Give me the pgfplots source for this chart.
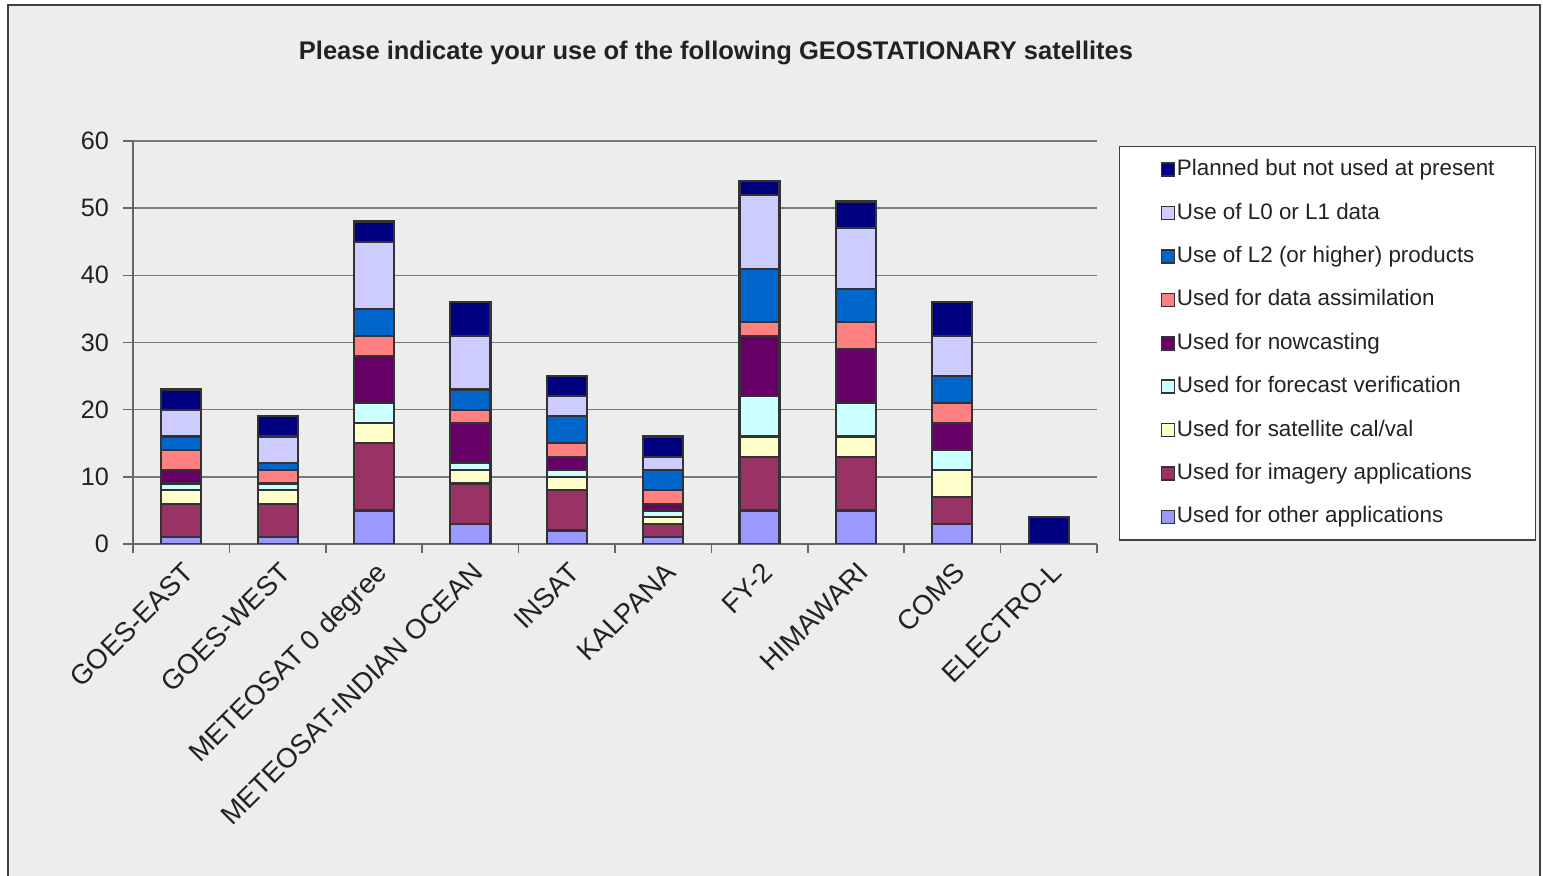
\documentclass[border=0pt]{standalone}
\usepackage{fontspec}
\setmainfont{Liberation Sans}
\usepackage{pgfplots}
\usepackage{pgfplotstable}
\pgfplotsset{compat=1.18}
\definecolor{cOther}{HTML}{9999FF}
\definecolor{cImagery}{HTML}{993366}
\definecolor{cCalval}{HTML}{FFFFCC}
\definecolor{cForecast}{HTML}{CCFFFF}
\definecolor{cNowcast}{HTML}{660066}
\definecolor{cDA}{HTML}{FF8080}
\definecolor{cLtwo}{HTML}{0066CC}
\definecolor{cLzero}{HTML}{CCCCFF}
\definecolor{cPlanned}{HTML}{000080}
\definecolor{bgc}{HTML}{EDEDED}
\definecolor{framec}{HTML}{404040}
\definecolor{axisc}{HTML}{666666}
\definecolor{gridc}{HTML}{7A7A7A}
\definecolor{barline}{HTML}{333333}
\definecolor{textc}{HTML}{222222}

\pgfplotstableread{
x other imagery calval forecast nowcast da ltwo lzero planned
0 1 5 2 1 2 3 2 4 3
1 1 5 2 1 0 2 1 4 3
2 5 10 3 3 7 3 4 10 3
3 3 6 2 1 6 2 3 8 5
4 2 6 2 1 2 2 4 3 3
5 1 2 1 1 1 2 3 2 3
6 5 8 3 6 9 2 8 11 2
7 5 8 3 5 8 4 5 9 4
8 3 4 4 3 4 3 4 6 5
9 0 0 0 0 0 0 0 0 4
}\datatable

\begin{document}
\begin{tikzpicture}
\useasboundingbox (0pt,0pt) rectangle (771.5pt,438pt);
\fill[white] (0pt,0pt) rectangle (771.5pt,438pt);
\fill[bgc] (4pt,0pt) rectangle (770pt,435.5pt);
\draw[line width=1pt, color=framec] (4pt,-2pt) -- (4pt,435.5pt) -- (770pt,435.5pt) -- (770pt,-2pt);
\node[font=\bfseries\fontsize{12.75}{15}\selectfont, text=textc] at (358pt,411.5pt) {Please indicate your use of the following GEOSTATIONARY satellites};
\begin{axis}[
  at={(66.5pt,166pt)}, anchor=south west,
  scale only axis, width=482pt, height=201.5pt,
  xmin=-0.5, xmax=9.5, ymin=0, ymax=60,
  ytick={0,10,...,60},
  xtick={0,...,9},
  xticklabels={GOES-EAST,GOES-WEST,METEOSAT 0 degree,METEOSAT-INDIAN OCEAN,INSAT,KALPANA,FY-2,HIMAWARI,COMS,ELECTRO-L},
  minor xtick={-0.5,0.5,...,9.5},
  ybar stacked, bar width=20pt,
  axis lines*=left,
  tick align=outside,
  major tick length=5pt, minor tick length=4.5pt,
  major x tick style={draw=none},
  tick style={color=axisc, line width=0.75pt},
  axis line style={color=axisc, line width=0.75pt},
  ymajorgrids, grid style={color=gridc, line width=0.75pt},
  xticklabel style={rotate=45, anchor=north east, font=\fontsize{13.8}{15}\selectfont, text=textc, inner sep=1pt, xshift=-1pt, yshift=-1.5pt},
  yticklabel style={font=\fontsize{12.6}{14}\selectfont, text=textc, xshift=-3.5pt},
  /pgf/number format/assume math mode=true,
  every axis plot post/.append style={draw=barline, line width=1.1pt,
    legend image code/.code={\draw[##1, line width=0.8pt] (0pt,-3.25pt) rectangle (6.5pt,3.25pt);}},
  reverse legend,
  legend cell align=left,
  legend style={at={(rel axis cs:1.0228,0.9876)}, anchor=north west,
    draw=framec, fill=white, line width=0.75pt,
    inner xsep=20.5pt, inner ysep=6.5pt, row sep=11.7pt, column sep=0.8pt,
    font=\fontsize{11.2}{13}\selectfont, text=textc,
    nodes={inner sep=0pt, text height=8pt, text depth=2pt}},
]
\addplot[fill=cOther] table[x=x,y=other]{\datatable};
\addlegendentry{Used for other applications}
\addplot[fill=cImagery] table[x=x,y=imagery]{\datatable};
\addlegendentry{Used for imagery applications}
\addplot[fill=cCalval] table[x=x,y=calval]{\datatable};
\addlegendentry{Used for satellite cal/val}
\addplot[fill=cForecast] table[x=x,y=forecast]{\datatable};
\addlegendentry{Used for forecast verification}
\addplot[fill=cNowcast] table[x=x,y=nowcast]{\datatable};
\addlegendentry{Used for nowcasting}
\addplot[fill=cDA] table[x=x,y=da]{\datatable};
\addlegendentry{Used for data assimilation}
\addplot[fill=cLtwo] table[x=x,y=ltwo]{\datatable};
\addlegendentry{Use of L2 (or higher) products}
\addplot[fill=cLzero] table[x=x,y=lzero]{\datatable};
\addlegendentry{Use of L0 or L1 data}
\addplot[fill=cPlanned] table[x=x,y=planned]{\datatable};
\addlegendentry{Planned but not used at present}
\end{axis}
\end{tikzpicture}
\end{document}
